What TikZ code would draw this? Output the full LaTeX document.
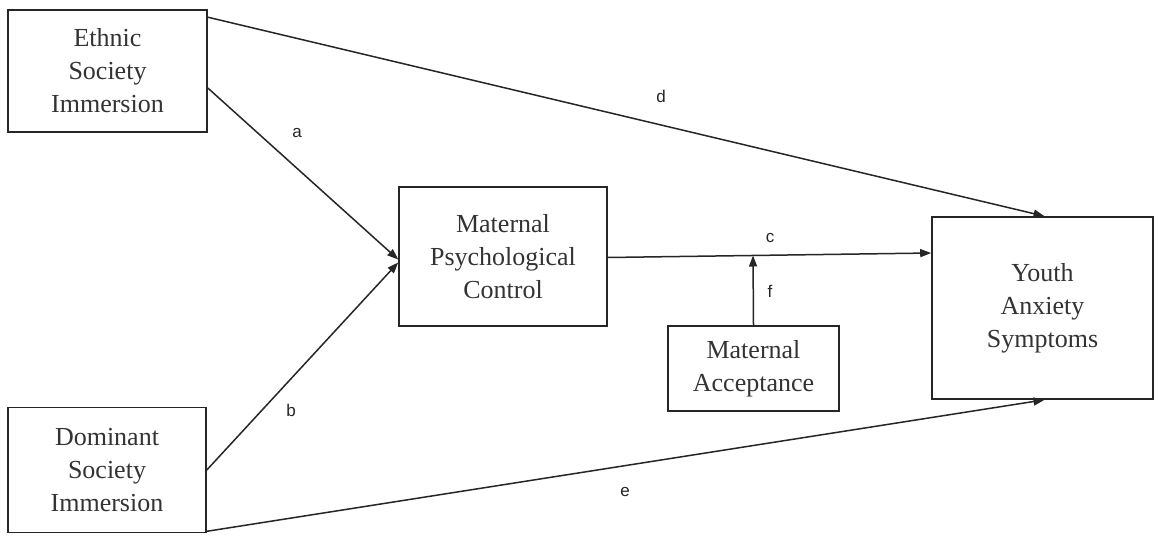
\documentclass[tikz,border=0pt]{standalone}
\usepackage{fontspec}
\setmainfont{Liberation Serif}
\newfontfamily\labfont{Liberation Sans}
\usetikzlibrary{arrows.meta,calc}
\tikzset{
  box/.style={draw=black!85, line width=1.6pt, fill=white, align=center, inner sep=0pt,
    font=\fontsize{26}{33}\selectfont, text=black!80},
  conn/.style={draw=black!85, line width=1.5pt, -{Triangle[length=11pt,width=8pt]}},
  lab/.style={font=\labfont\fontsize{17}{20}\selectfont, text=black!85, inner sep=0pt}
}
\begin{document}
\begin{tikzpicture}[x=1pt,y=-1pt]
\useasboundingbox[fill=white] (0,0) rectangle (1158,537);
\node[box, minimum width=199pt, minimum height=122pt] (eth) at (107.5,71) {Ethnic\\Society\\Immersion};
\node[box, minimum width=198pt, minimum height=125pt] (dom) at (107,470) {Dominant\\Society\\Immersion};
\node[box, minimum width=208pt, minimum height=139pt] (mpc) at (503,256.5) {Maternal\\Psychological\\Control};
\node[box, minimum width=171pt, minimum height=85pt] (acc) at (753.5,368.5) {Maternal\\Acceptance};
\node[box, minimum width=221pt, minimum height=182pt] (you) at (1042.5,308) {Youth\\Anxiety\\Symptoms};
\coordinate (ethd) at ($(eth.north east)+(0,8)$);
\coordinate (etha) at ($(eth.east)+(0,17)$);
\coordinate (domb) at ($(dom.east)+(0,0)$);
\coordinate (dome) at ($(dom.south east)+(0,-2)$);
\coordinate (mpca) at ($(mpc.west)+(0,3)$);
\coordinate (mpcb) at ($(mpc.west)+(0,6)$);
\coordinate (mpcc) at ($(mpc.east)+(0,1)$);
\coordinate (youd) at ($(you.north)+(2,0)$);
\coordinate (youe) at ($(you.south)+(2,0)$);
\coordinate (youc) at ($(you.west)+(0,-55)$);
\coordinate (cmid) at (753,255.5);
\draw[conn] (ethd) -- (youd);
\draw[conn] (etha) -- (mpca);
\draw[conn] (domb) -- (mpcb);
\draw[conn] (dome) -- (youe);
\draw[conn] (mpcc) -- (youc);
\draw[conn] (acc.north) -- (cmid);
\node[lab] (la) at (297,133) {a};
\node[lab] (lb) at (291,410) {b};
\node[lab] (lc) at (770,238) {c};
\node[lab] (ld) at (661,96) {d};
\node[lab] (le) at (625,492) {e};
\node[lab] (lf) at (770,291) {f};
\end{tikzpicture}
\end{document}
